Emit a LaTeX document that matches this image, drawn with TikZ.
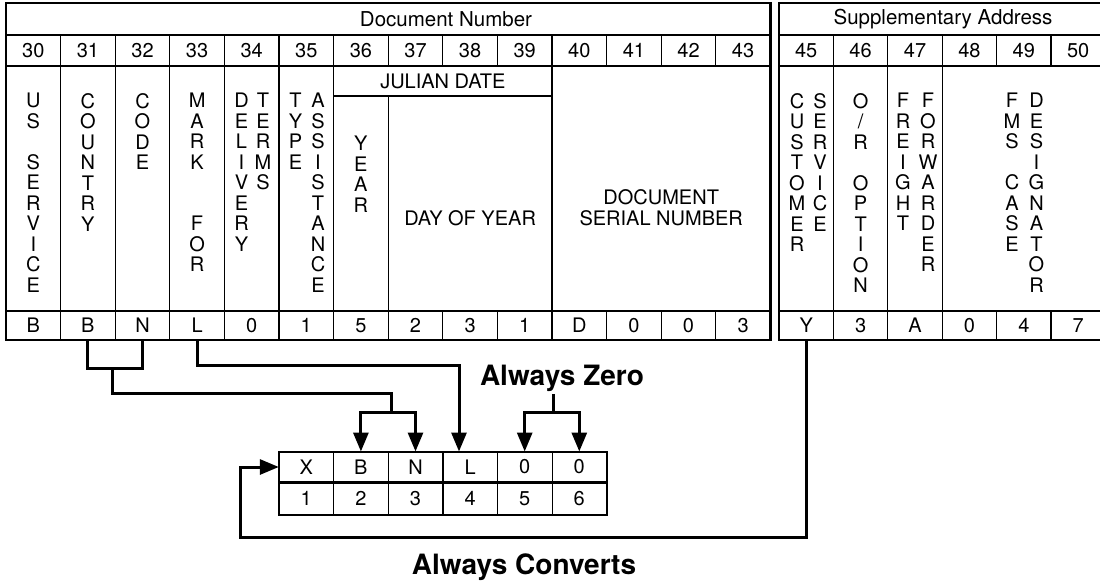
\documentclass[tikz,border=0pt]{standalone}
\usepackage{fontspec}
\setmainfont{TeX Gyre Heros}
\usetikzlibrary{arrows.meta,calc}
\newcommand{\tabfont}{\fontsize{20}{20.5}\selectfont}
\newcommand{\hdfont}{\fontsize{20.5}{22}\selectfont}
\newcommand{\lblfont}{\fontsize{28}{30}\selectfont\bfseries}
\begin{document}
\begin{tikzpicture}[x=1pt,y=-1pt,
  thinline/.style={line width=1.3pt},
  frame/.style={line width=2.6pt},
  conn/.style={line width=3pt},
  arr/.style={conn,-{Triangle[width=15pt,length=19pt]}},
  num/.style={font=\tabfont,inner sep=0pt},
  hd/.style={font=\hdfont,inner sep=0pt},
  vstack/.style={font=\tabfont,align=center,anchor=north,inner sep=0pt},
  cell/.style={font=\tabfont,inner sep=0pt,minimum width=54.6pt,minimum height=29pt},
  scell/.style={font=\tabfont,inner sep=0pt,minimum width=54.6pt,minimum height=30.6pt},
  scellb/.style={font=\tabfont,inner sep=0pt,minimum width=54.6pt,minimum height=32.7pt},
  lbl/.style={font=\lblfont,inner sep=2pt}]
\useasboundingbox (0,0) rectangle (1100,584);
\clip (0,0) rectangle (1100,584);
% ---------- left table ----------
\draw[frame] (6,3) rectangle (770.4,340);
\draw[thinline] (6,35) -- (770.4,35) (6,66) -- (770.4,66) (6,311) -- (770.4,311) (333.6,96) -- (552,96);
\foreach \k in {1,...,13} \draw[thinline] ({6+54.6*\k},35) -- ({6+54.6*\k},66) ({6+54.6*\k},311) -- ({6+54.6*\k},340);
\foreach \k in {1,2,3,4,5,6,10} \draw[thinline] ({6+54.6*\k},66) -- ({6+54.6*\k},311);
\draw[thinline] (388.2,96) -- (388.2,311);
% ---------- right table ----------
\draw[frame] (779,3) rectangle (1105.4,340);
\draw[thinline] (779,35) -- (1105.4,35) (779,66) -- (1105.4,66) (779,311) -- (1105.4,311);
\foreach \k in {1,...,5} \draw[thinline] ({779+54.4*\k},35) -- ({779+54.4*\k},66) ({779+54.4*\k},311) -- ({779+54.4*\k},340);
\foreach \k in {1,2,3} \draw[thinline] ({779+54.4*\k},66) -- ({779+54.4*\k},311);
% ---------- headers ----------
\node[hd] (hdn) at (446,19) {Document Number};
\node[hd] (hsa) at (943,19) {Supplementary Address};
\foreach \n [count=\i from 0] in {30,...,43} \node[num] (c\n) at ({6+54.6*(\i+0.5)},50.5) {\n};
\foreach \n [count=\i from 0] in {45,...,50} \node[num] (c\n) at ({779+54.4*(\i+0.5)},50.5) {\n};
% ---------- field names ----------
\node[vstack] (tUS) at (33.3,93) {U\\S\\[20.5pt]S\\E\\R\\V\\I\\C\\E};
\node[vstack] (tCO) at (87.9,93) {C\\O\\U\\N\\T\\R\\Y};
\node[vstack] (tCD) at (142.5,93) {C\\O\\D\\E};
\node[vstack] (tMF) at (197.1,93) {M\\A\\R\\K\\[41pt]F\\O\\R};
\node[vstack] (tDL) at (241.5,93) {D\\E\\L\\I\\V\\E\\R\\Y};
\node[vstack] (tTM) at (263,93) {T\\E\\R\\M\\S};
\node[vstack] (tTY) at (295.5,93) {T\\Y\\P\\E};
\node[vstack] (tAS) at (318,93) {A\\S\\S\\I\\S\\T\\A\\N\\C\\E};
\node[vstack] (tYR) at (360.9,136) {Y\\E\\A\\R};
\node[num] (tJD) at (442.8,81) {JULIAN DATE};
\node[num] (tDY) at (470.1,218) {DAY OF YEAR};
\node[num,align=center] (tDS) at (661.2,207.5) {DOCUMENT\\SERIAL NUMBER};
\node[vstack] (tCU) at (797,93) {C\\U\\S\\T\\O\\M\\E\\R};
\node[vstack] (tSV) at (820,93) {S\\E\\R\\V\\I\\C\\E};
\node[vstack] (tOR) at (860.6,93) {O\\/\\R\\[20.5pt]O\\P\\T\\I\\O\\N};
\node[vstack] (tFR) at (903,93) {F\\R\\E\\I\\G\\H\\T};
\node[vstack] (tFW) at (928,93) {F\\O\\R\\W\\A\\R\\D\\E\\R};
\node[vstack] (tFM) at (1012,93) {F\\M\\S\\[20.5pt]C\\A\\S\\E};
\node[vstack] (tDG) at (1036.5,93) {D\\E\\S\\I\\G\\N\\A\\T\\O\\R};
% ---------- values ----------
\foreach \v/\n [count=\i from 0] in {B/30,B/31,N/32,L/33,0/34,1/35,5/36,2/37,3/38,1/39,D/40,0/41,0/42,3/43}
  \node[cell] (r\n) at ({6+54.6*(\i+0.5)},325.5) {\v};
\foreach \v/\n [count=\i from 0] in {Y/45,3/46,A/47,0/48,4/49,7/50}
  \node[cell,minimum width=54.4pt] (r\n) at ({779+54.4*(\i+0.5)},325.5) {\v};
% ---------- small table ----------
\foreach \v/\nm [count=\i from 0] in {X/sX,B/sB,N/sN,L/sL,0/sZa,0/sZb}
  \node[scell] (\nm) at ({279+54.6*(\i+0.5)},467) {\v};
\foreach \v [count=\i from 0] in {1,...,6}
  \node[scellb] (sn\v) at ({279+54.6*(\i+0.5)},498.65) {\v};
\draw[line width=2pt] (sX.north west) rectangle (sn6.south east);
\draw[line width=2.6pt] (sX.south west) -- (sZb.south east);
\foreach \a/\b in {sX/sB,sB/sN,sN/sL,sL/sZa,sZa/sZb}
  \draw[thinline] (\a.north east) -- (\a.south east);
\foreach \a in {1,...,5}
  \draw[thinline] (sn\a.north east) -- (sn\a.south east);
% ---------- connectors ----------
\coordinate (bnj) at (112,368);
\coordinate (bnk) at (391,393);
\coordinate (bns) at (391,412);
\draw[conn] (r31.south) |- (bnj) -| (r32.south);
\draw[conn] (bnj) |- (bnk) -- (bns);
\draw[arr] (bns) -| (sB.north);
\draw[arr] (bns) -| (sN.north);
\coordinate (lk) at (459,365);
\draw[arr] (r33.south) |- (lk) -- (lk |- sL.north);
\node[lbl] (az) at (562,378.3) {Always Zero};
\coordinate (azj) at (553.5,412);
\draw[conn] (azj |- az.south) -- (azj);
\draw[arr] (azj) -| (sZa.north);
\draw[arr] (azj) -| (sZb.north);
\coordinate (lp) at (240,537.3);
\draw[arr] (r45.south) |- (lp) |- (sX.west);
\node[lbl] (ac) at (524,567) {Always Converts};
\end{tikzpicture}
\end{document}
